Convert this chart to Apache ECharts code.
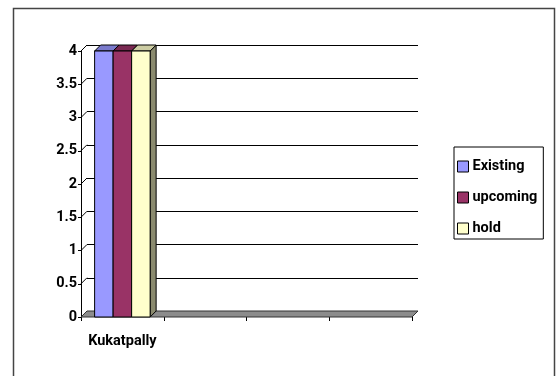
<!DOCTYPE html>
<html>
<head>
<meta charset="utf-8">
<script src="https://cdn.jsdelivr.net/npm/echarts@6/dist/echarts.min.js"></script>
<style>
  html, body { margin: 0; padding: 0; background: #fff; }
  #chart { width: 558px; height: 376px; }
</style>
</head>
<body>
<div id="chart"></div>
<script>
// Locations along the category axis (only the first one carries data)
const categories = ['Kukatpally', '', '', ''];
// Number of projects per status
const existing = [4, '-', '-', '-'];
const upcoming = [4, '-', '-', '-'];
const hold = [4, '-', '-', '-'];
// Value axis ticks
const yTicks = [0, 0.5, 1, 1.5, 2, 2.5, 3, 3.5, 4];

const FONT = "Roboto, 'Liberation Sans', sans-serif";
const FONT_SIZE = 14.5;
const DEPTH = 6; // 3D depth offset in pixels

// face colours: [front, top, side]
const palette = {
  Existing: ['#9999FF', '#7A7ACC', '#5C5C99'],
  upcoming: ['#993366', '#7A2952', '#5C1F3D'],
  hold: ['#FFFFCC', '#CCCCA3', '#8A8A6E']
};

function barSeries(name, values, idx) {
  const c = palette[name];
  return {
    name: name,
    type: 'custom',
    xAxisIndex: 1,
    yAxisIndex: 1,
    z: 5 + idx,
    itemStyle: { color: c[0], borderColor: '#000', borderWidth: 1 },
    data: values.map((v, i) => [i, v]),
    renderItem: function (params, api) {
      const v = api.value(1);
      if (v === '-' || v == null || isNaN(v)) return null;
      const base = api.coord([api.value(0), 0]);
      const top = api.coord([api.value(0), v]);
      const band = api.size([1, 0])[0];
      const bw = band * 0.2236;
      const x0 = base[0] - 1.5 * bw + idx * bw;
      const x1 = x0 + bw;
      const yt = top[1], yb = base[1], d = DEPTH;
      const stroke = { stroke: '#000', lineWidth: 1 };
      return {
        type: 'group',
        children: [
          { type: 'polygon', shape: { points: [[x1, yt], [x1 + d, yt - d], [x1 + d, yb - d], [x1, yb]] },
            style: Object.assign({ fill: c[2] }, stroke) },
          { type: 'polygon', shape: { points: [[x0, yt], [x1, yt], [x1 + d, yt - d], [x0 + d, yt - d]] },
            style: Object.assign({ fill: c[1] }, stroke) },
          { type: 'rect', shape: { x: x0, y: yt, width: bw, height: yb - yt },
            style: Object.assign({ fill: c[0] }, stroke) }
        ]
      };
    }
  };
}

// Floor of the 3D plot
const floorSeries = {
  type: 'custom',
  xAxisIndex: 1,
  yAxisIndex: 1,
  silent: true,
  z: 3,
  data: [[0, 0]],
  renderItem: function (params, api) {
    const cs = params.coordSys;
    const y = api.coord([0, 0])[1];
    const xl = cs.x, xr = cs.x + cs.width, d = DEPTH;
    return {
      type: 'polygon',
      shape: { points: [[xl, y], [xr, y], [xr + d, y - d], [xl + d, y - d]] },
      style: { fill: '#8C8C8C', stroke: '#333', lineWidth: 1 }
    };
  }
};

// Side-wall connectors from the front value axis to the back gridlines
const wallSeries = {
  type: 'custom',
  xAxisIndex: 1,
  yAxisIndex: 1,
  silent: true,
  z: 2,
  data: yTicks.map(t => [0, t]),
  renderItem: function (params, api) {
    const cs = params.coordSys;
    const y = api.coord([0, api.value(1)])[1];
    return {
      type: 'line',
      shape: { x1: cs.x, y1: y, x2: cs.x + DEPTH, y2: y - DEPTH },
      style: { stroke: '#000', lineWidth: 1 }
    };
  }
};

const labelFont = { fontFamily: FONT, fontSize: FONT_SIZE, fontWeight: 'bold', color: '#000' };

const chart = echarts.init(document.getElementById('chart'));
chart.setOption({
  animation: false,
  backgroundColor: '#fff',
  textStyle: { fontFamily: FONT },
  graphic: [{
    type: 'rect',
    shape: { x: 13.5, y: 8.5, width: 541, height: 400 },
    style: { fill: 'none', stroke: '#444', lineWidth: 1.5 },
    silent: true
  }],
  legend: {
    orient: 'vertical',
    left: 454,
    top: 147,
    padding: [12, 6, 3, 3],
    itemGap: 16,
    itemWidth: 11,
    itemHeight: 11,
    icon: 'rect',
    borderColor: '#000',
    borderWidth: 1,
    itemStyle: { borderColor: '#000', borderWidth: 1 },
    textStyle: Object.assign({ padding: [0, 0, 0, -1] }, labelFont),
    data: ['Existing', 'upcoming', 'hold']
  },
  grid: [
    // back wall
    { left: 87, right: 140, top: 45, bottom: 65 },
    // front plane
    { left: 81, right: 146, top: 51, bottom: 59 }
  ],
  xAxis: [
    { gridIndex: 0, type: 'category', data: categories, show: false },
    {
      gridIndex: 1, type: 'category', data: categories,
      axisLine: { show: false },
      axisTick: { show: true, interval: 0, length: 4, lineStyle: { color: '#000' } },
      axisLabel: Object.assign({ margin: 17, interval: 0 }, labelFont)
    }
  ],
  yAxis: [
    {
      gridIndex: 0, type: 'value', min: 0, max: 4, interval: 0.5,
      axisLine: { show: false }, axisTick: { show: false }, axisLabel: { show: false },
      splitLine: { show: true, lineStyle: { color: '#000', width: 1 } }
    },
    {
      gridIndex: 1, type: 'value', min: 0, max: 4, interval: 0.5,
      axisLine: { show: true, lineStyle: { color: '#000' } },
      axisTick: { show: true, length: 3, lineStyle: { color: '#000' } },
      axisLabel: Object.assign({ margin: 4 }, labelFont),
      splitLine: { show: false }
    }
  ],
  series: [
    wallSeries,
    floorSeries,
    barSeries('Existing', existing, 0),
    barSeries('upcoming', upcoming, 1),
    barSeries('hold', hold, 2)
  ]
});
</script>
</body>
</html>
